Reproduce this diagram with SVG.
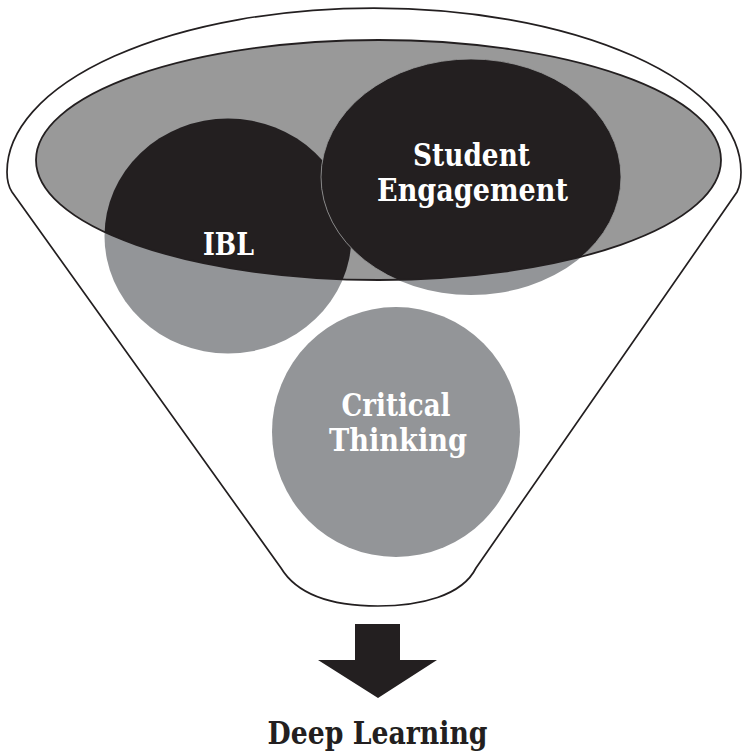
<svg xmlns="http://www.w3.org/2000/svg" width="743" height="752" viewBox="0 0 743 752">
  <style>
    .lbl { font-family: "DejaVu Serif", "Liberation Serif", serif; font-weight: bold; font-size: 32px; text-anchor: middle; }
    .white { fill: #ffffff; }
    .dark { fill: #231f20; }
    .gray { fill: #939598; }
    .blk { fill: #231f20; }
  </style>
  <defs>
    <clipPath id="inEllipse">
      <ellipse cx="378.5" cy="160" rx="342.5" ry="120"/>
    </clipPath>
  </defs>

  <g id="funnel">
    <path d="M 12,192 C 8,186 7,180 7,172 A 367,164 0 0 1 741,172 C 741,180 740,186 737,192 L 476,568 C 462,596 420,606 378,606 C 336,606 298,596 281,568 Z" fill="#ffffff" stroke="#231f20" stroke-width="1.7"/>
  </g>

  <g id="top-ellipse">
    <ellipse cx="378.5" cy="160" rx="342.5" ry="120" fill="#999999"/>
  </g>

  <g id="node-ibl">
    <ellipse class="gray" cx="228" cy="236" rx="123.5" ry="117.5"/>
    <ellipse class="blk" cx="228" cy="236" rx="123.5" ry="117.5" clip-path="url(#inEllipse)"/>
  </g>

  <g id="node-student-engagement">
    <ellipse class="gray" cx="471" cy="177" rx="150" ry="118"/>
    <ellipse class="blk" cx="471" cy="177" rx="150" ry="118" clip-path="url(#inEllipse)" stroke="#9a9a9a" stroke-width="0.8"/>
  </g>

  <g id="top-ellipse-outline">
    <ellipse cx="378.5" cy="160" rx="342.5" ry="120" fill="none" stroke="#231f20" stroke-width="1.8"/>
  </g>

  <g id="node-critical-thinking">
    <ellipse class="gray" cx="396" cy="432" rx="124" ry="125"/>
  </g>

  <g id="labels">
    <text class="lbl white" x="471.5" y="166" textLength="117" lengthAdjust="spacingAndGlyphs">Student</text>
    <text class="lbl white" x="472.5" y="201" textLength="191" lengthAdjust="spacingAndGlyphs">Engagement</text>
    <text class="lbl white" x="228.5" y="255" textLength="51" lengthAdjust="spacingAndGlyphs">IBL</text>
    <text class="lbl white" x="396" y="416" textLength="109" lengthAdjust="spacingAndGlyphs">Critical</text>
    <text class="lbl white" x="398" y="451" textLength="138" lengthAdjust="spacingAndGlyphs">Thinking</text>
  </g>

  <g id="connectors">
    <path d="M 355,624 L 400,624 L 400,660 L 437,660 L 378,698 L 318,660 L 355,660 Z" fill="#231f20"/>
  </g>

  <g id="node-deep-learning">
    <text class="lbl dark" x="377.5" y="744" textLength="220" lengthAdjust="spacingAndGlyphs">Deep Learning</text>
  </g>
</svg>
